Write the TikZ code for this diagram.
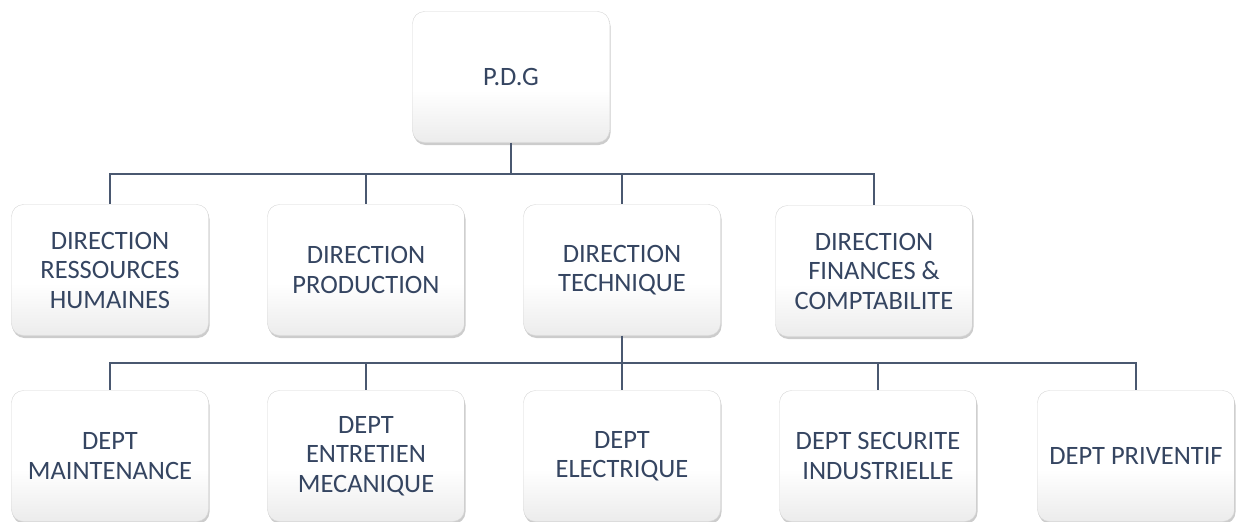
\documentclass[tikz,border=0pt]{standalone}
\usepackage{fontspec}
\setmainfont{Carlito}
\usetikzlibrary{shadows}
\definecolor{txt}{HTML}{354561}
\definecolor{wire}{HTML}{4A5870}
\definecolor{rim}{HTML}{D6D6D6}
\pgfdeclareverticalshading{boxshade}{100bp}{color(0bp)=(black!17); color(45bp)=(white); color(100bp)=(white)}
\tikzset{
    box/.style={rectangle, rounded corners=12pt, draw=rim, shading=boxshade,
        minimum width=197pt, minimum height=131pt, align=center, text=txt,
        font=\fontsize{26.5}{29.5}\selectfont,
        drop shadow={shadow xshift=1pt, shadow yshift=-2.5pt, opacity=0.4}},
    link/.style={draw=wire, line width=1.4pt}
}
\begin{document}
\begin{tikzpicture}[x=1pt, y=-1pt]
            \useasboundingbox (0,0) rectangle (1243,522);
            % top
            \node [box] (pdg) at (511,77) {P.D.G};
            % directions
            \node [box] (rh) at (110,270) {DIRECTION\\RESSOURCES\\HUMAINES};
            \node [box] (prod) at (366,270) {DIRECTION\\PRODUCTION};
            \node [box] (tech) at (622,270) {DIRECTION\\TECHNIQUE};
            \node [box] (fin) at (874,271) {DIRECTION\\FINANCES \&\\COMPTABILITE};
            % departements
            \node [box] (maint) at (110,456) {DEPT\\MAINTENANCE};
            \node [box] (meca) at (366,456) {DEPT\\ENTRETIEN\\MECANIQUE};
            \node [box] (elec) at (622,456) {DEPT\\ELECTRIQUE};
            \node [box] (secu) at (878,456) {DEPT SECURITE\\INDUSTRIELLE};
            \node [box] (prev) at (1136,456) {DEPT PRIVENTIF};
            \coordinate (bar1) at (511,174);
            \coordinate (bar2) at (622,363);
            \path [link] (pdg.south) -- (bar1);
            \path [link] (bar1) -| (rh.north);
            \path [link] (bar1) -| (prod.north);
            \path [link] (bar1) -| (tech.north);
            \path [link] (bar1) -| (fin.north);
            \path [link] (tech.south) -- (bar2);
            \path [link] (bar2) -| (maint.north);
            \path [link] (bar2) -| (meca.north);
            \path [link] (bar2) -| (elec.north);
            \path [link] (bar2) -| (secu.north);
            \path [link] (bar2) -| (prev.north);
        \end{tikzpicture}
\end{document}
